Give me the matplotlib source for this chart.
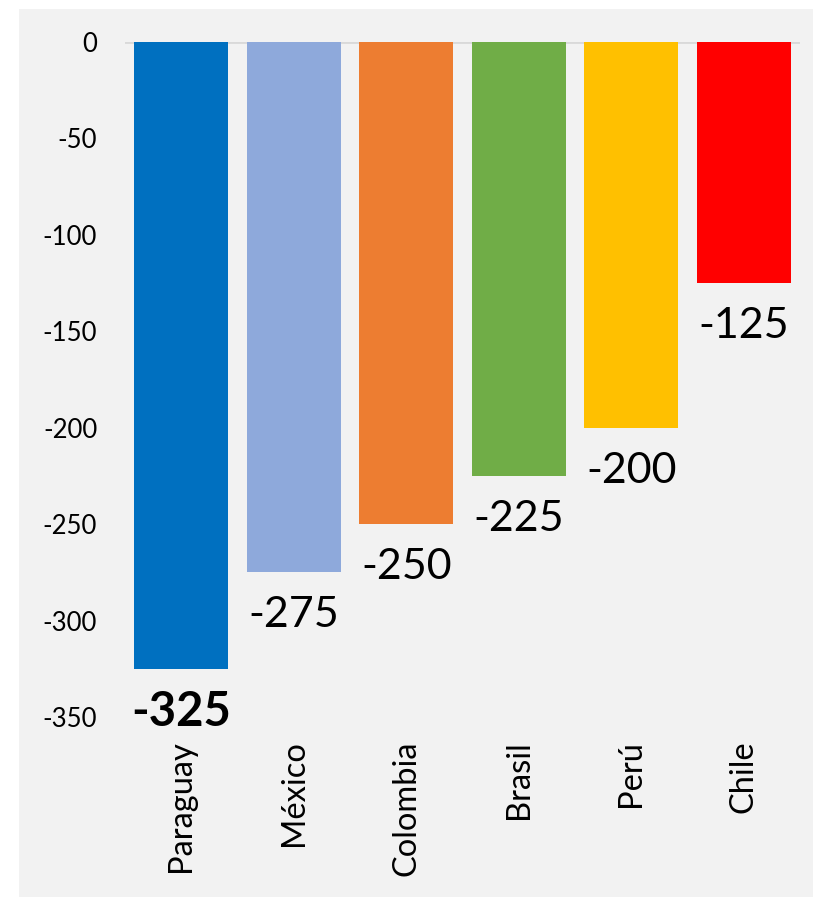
import matplotlib.pyplot as plt
from matplotlib.patches import Rectangle

countries = ["Paraguay", "México", "Colombia", "Brasil", "Perú", "Chile"]
values = [-325, -275, -250, -225, -200, -125]
colors = ["#0070C0", "#8EA9DB", "#ED7D31", "#70AD47", "#FFC000", "#FF0000"]
yticks = [0, -50, -100, -150, -200, -250, -300, -350]

plt.rcParams['font.family'] = ['Lato', 'DejaVu Sans']

fig = plt.figure(figsize=(8.13, 8.97), dpi=100)
fig.patch.set_facecolor("white")
# light grey chart area, inset from the top and left
panel = Rectangle((19 / 813, 0), 1, 1 - 9 / 897, transform=fig.transFigure,
                  facecolor="#f2f2f2", edgecolor="none", zorder=-10)
fig.add_artist(panel)

ax = fig.add_axes([125 / 813, 1 - 717 / 897, 675 / 813, 675 / 897])
ax.set_facecolor("#f2f2f2")

x = range(len(countries))
bars = ax.bar(x, values, width=0.835, color=colors, zorder=2)
ax.axhline(0, color="#d9d9d9", linewidth=2, zorder=1)

for i, (b, v) in enumerate(zip(bars, values)):
    ax.annotate(str(v), (b.get_x() + b.get_width() / 2, v), xytext=(0, -31),
                textcoords="offset points", ha="center", va="center",
                fontsize=34 if i == 0 else 31,
                fontweight="bold" if i == 0 else "normal", color="black")

ax.set_xlim(-0.5, len(countries) - 0.5)
ax.set_ylim(-350, 0)
ax.set_yticks(yticks)
ax.set_yticklabels([str(t) for t in yticks], fontsize=18.5)
ax.set_xticks(list(x))
ax.set_xticklabels(countries, rotation=90, fontsize=23.5, va="top", ha="center")
ax.tick_params(axis="both", length=0, colors="black")
ax.tick_params(axis="y", pad=20)
ax.tick_params(axis="x", pad=17)
for s in ax.spines.values():
    s.set_visible(False)

plt.savefig("out.png", dpi=100, facecolor=fig.get_facecolor())
